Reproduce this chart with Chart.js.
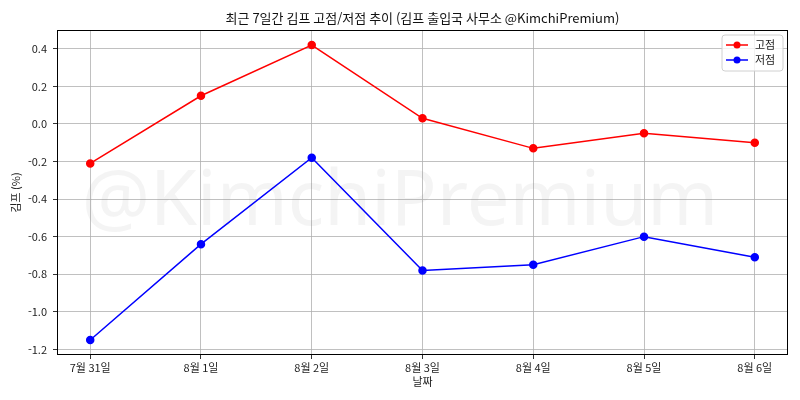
<!DOCTYPE html>
<html lang="ko">
<head>
    <meta charset="UTF-8">
    <title>최근 7일간 김프 고점/저점 추이</title>
    <script src="https://cdn.jsdelivr.net/npm/chart.js"></script>
    <style>
        html, body { margin: 0; padding: 0; background: #fff; }
        #wrap { width: 800px; height: 400px; }
    </style>
</head>
<body>
    <div id="wrap"><canvas id="kimpChart" width="800" height="400"></canvas></div>
    <script>
        // chart data
        const dates = ['7월 31일', '8월 1일', '8월 2일', '8월 3일', '8월 4일', '8월 5일', '8월 6일'];
        const highs = [-0.21, 0.15, 0.42, 0.03, -0.13, -0.05, -0.10];
        const lows = [-1.15, -0.64, -0.18, -0.78, -0.75, -0.60, -0.71];
        const yTicks = [0.4, 0.2, 0.0, -0.2, -0.4, -0.6, -0.8, -1.0, -1.2];

        const titleText = '최근 7일간 김프 고점/저점 추이 (김프 출입국 사무소 @KimchiPremium)';
        const watermark = '@KimchiPremium';
        const FONT = "'Noto Sans CJK KR', 'Noto Sans', sans-serif";

        const toPoints = vals => vals.map((v, i) => ({ x: i, y: v }));

        // title centred over the plot, watermark, spines, legend box
        const decor = {
            id: 'decor',
            beforeDatasetsDraw(chart) {
                const ctx = chart.ctx;
                ctx.save();
                ctx.font = "76px 'Noto Sans', sans-serif";
                ctx.fillStyle = 'rgba(128,128,128,0.09)';
                ctx.textAlign = 'center';
                ctx.textBaseline = 'alphabetic';
                ctx.fillText(watermark, 400, 225);
                ctx.restore();
            },
            afterDraw(chart) {
                const ctx = chart.ctx;
                const a = chart.chartArea;
                ctx.save();
                ctx.strokeStyle = '#000';
                ctx.lineWidth = 1;
                ctx.strokeRect(a.left + 0.5, a.top + 0.5, a.right - a.left - 1, a.bottom - a.top - 1);

                ctx.fillStyle = '#111';
                ctx.font = '13px ' + FONT;
                ctx.textAlign = 'center';
                ctx.textBaseline = 'middle';
                ctx.fillText(titleText, (a.left + a.right) / 2, 18);

                // legend, upper right inside the plot
                const sets = chart.data.datasets;
                const bx = a.right - 66, by = a.top + 5, bw = 61, bh = 36;
                ctx.fillStyle = 'rgba(255,255,255,0.8)';
                ctx.strokeStyle = '#d0d0d0';
                ctx.beginPath();
                ctx.roundRect(bx, by, bw, bh, 3);
                ctx.fill();
                ctx.stroke();
                sets.forEach((ds, i) => {
                    const y = by + 10 + i * 15;
                    ctx.strokeStyle = ds.borderColor;
                    ctx.lineWidth = 1.5;
                    ctx.beginPath();
                    ctx.moveTo(bx + 4, y);
                    ctx.lineTo(bx + 26, y);
                    ctx.stroke();
                    ctx.fillStyle = ds.borderColor;
                    ctx.beginPath();
                    ctx.arc(bx + 15, y, 3.5, 0, Math.PI * 2);
                    ctx.fill();
                    ctx.fillStyle = '#222';
                    ctx.font = '11px ' + FONT;
                    ctx.textAlign = 'left';
                    ctx.fillText(ds.label, bx + 33, y);
                });
                ctx.restore();
            }
        };

        new Chart(document.getElementById('kimpChart'), {
            type: 'line',
            data: {
                datasets: [{
                    label: '고점',
                    data: toPoints(highs),
                    borderColor: '#ff0000',
                    backgroundColor: '#ff0000',
                    borderWidth: 1.5,
                    pointRadius: 3.5,
                    pointHoverRadius: 3.5,
                    tension: 0
                }, {
                    label: '저점',
                    data: toPoints(lows),
                    borderColor: '#0000ff',
                    backgroundColor: '#0000ff',
                    borderWidth: 1.5,
                    pointRadius: 3.5,
                    pointHoverRadius: 3.5,
                    tension: 0
                }]
            },
            options: {
                responsive: false,
                animation: false,
                devicePixelRatio: 1,
                layout: { padding: { top: 30, right: 12, left: 0, bottom: 12 } },
                plugins: {
                    legend: { display: false },
                    title: { display: false },
                    tooltip: { enabled: false }
                },
                scales: {
                    x: {
                        type: 'linear',
                        min: -0.3,
                        max: 6.3,
                        afterBuildTicks: s => { s.ticks = dates.map((_, i) => ({ value: i })); },
                        afterFit: s => { s.height = 33; },
                        grid: { color: '#b0b0b0', lineWidth: 0.8, tickColor: '#000', tickLength: 4 },
                        border: { display: false },
                        ticks: {
                            callback: v => dates[v],
                            color: '#222',
                            font: { family: FONT, size: 11 },
                            padding: 2,
                            maxRotation: 0,
                            autoSkip: false
                        },
                        title: {
                            display: true,
                            text: '날짜',
                            color: '#222',
                            font: { family: FONT, size: 11 },
                            padding: { top: 0, bottom: 0 }
                        }
                    },
                    y: {
                        min: -1.23,
                        max: 0.50,
                        afterBuildTicks: s => { s.ticks = yTicks.map(v => ({ value: v })); },
                        afterFit: s => { s.width = 57; },
                        grid: { color: '#b0b0b0', lineWidth: 0.8, tickColor: '#000', tickLength: 4 },
                        border: { display: false },
                        ticks: {
                            callback: v => v.toFixed(1),
                            color: '#222',
                            font: { family: FONT, size: 11 },
                            padding: 6
                        },
                        title: {
                            display: true,
                            text: '김프 (%)',
                            color: '#222',
                            font: { family: FONT, size: 11 },
                            padding: { top: 9, bottom: 0 }
                        }
                    }
                }
            },
            plugins: [decor]
        });
    </script>
</body>
</html>
